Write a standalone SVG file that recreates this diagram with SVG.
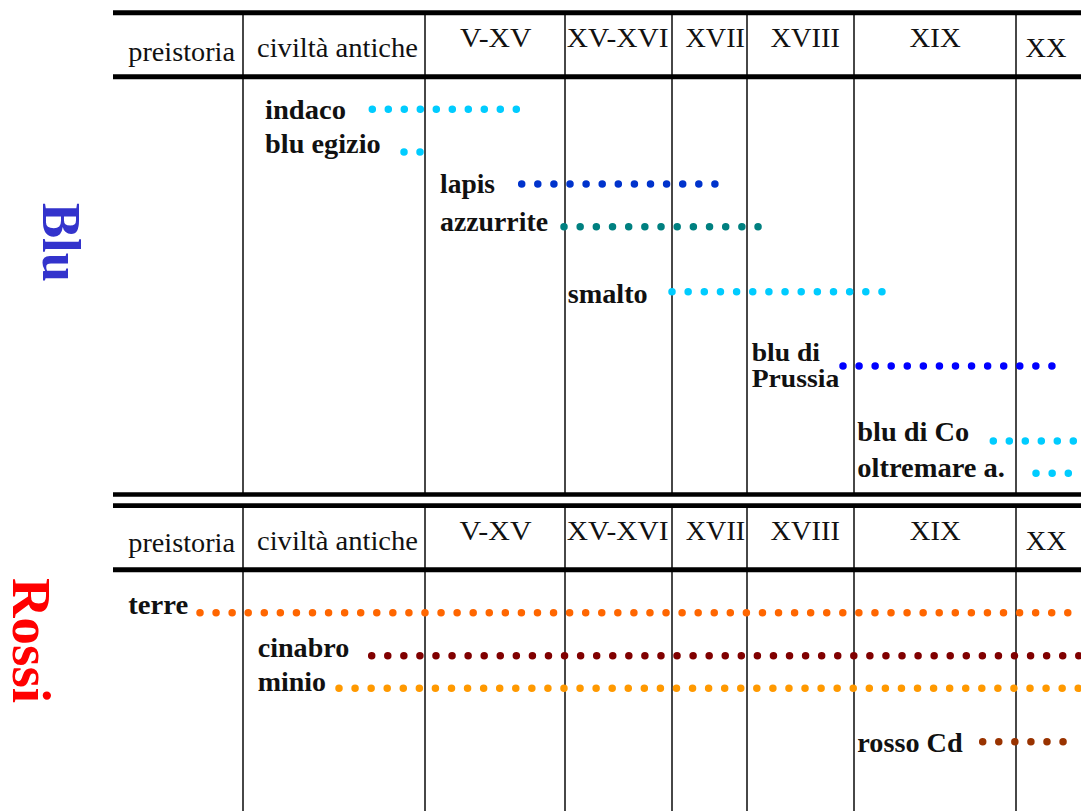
<svg xmlns="http://www.w3.org/2000/svg" width="1081" height="811" viewBox="0 0 1081 811">
<style>
  text { font-family: "Liberation Serif", "Times New Roman", serif; }
  .hdr { font-size: 27px; fill: #111; }
  .lbl { font-size: 27px; font-weight: bold; fill: #111; }
  .lbl2 { font-size: 25px; font-weight: bold; fill: #111; }
  .side { font-size: 54px; font-weight: bold; }
  .thick { stroke: #000; stroke-width: 5; }
  .vline { stroke: #333; stroke-width: 1.8; }
  .dots { fill: none; stroke-width: 7.5; stroke-linecap: round; stroke-dasharray: 0 16.07; }
</style>
<rect width="1081" height="811" fill="#fff"/>

<g id="grid">
  <g id="vertical-lines-top">
    <line class="vline" x1="243" y1="12" x2="243" y2="494"/>
    <line class="vline" x1="425" y1="12" x2="425" y2="494"/>
    <line class="vline" x1="565" y1="12" x2="565" y2="494"/>
    <line class="vline" x1="672" y1="12" x2="672" y2="494"/>
    <line class="vline" x1="747" y1="12" x2="747" y2="494"/>
    <line class="vline" x1="854" y1="12" x2="854" y2="494"/>
    <line class="vline" x1="1016" y1="12" x2="1016" y2="494"/>
  </g>
  <g id="vertical-lines-bottom">
    <line class="vline" x1="243" y1="505" x2="243" y2="811"/>
    <line class="vline" x1="425" y1="505" x2="425" y2="811"/>
    <line class="vline" x1="565" y1="505" x2="565" y2="811"/>
    <line class="vline" x1="672" y1="505" x2="672" y2="811"/>
    <line class="vline" x1="747" y1="505" x2="747" y2="811"/>
    <line class="vline" x1="854" y1="505" x2="854" y2="811"/>
    <line class="vline" x1="1016" y1="505" x2="1016" y2="811"/>
  </g>
  <line class="thick" x1="113" y1="12.8" x2="1081" y2="12.8"/>
  <line class="thick" x1="113" y1="76.7" x2="1081" y2="76.7"/>
  <line class="thick" x1="113" y1="494.6" x2="1081" y2="494.6" style="stroke-width:4.5"/>
  <line class="thick" x1="113" y1="505.7" x2="1081" y2="505.7" style="stroke-width:4.7"/>
  <line class="thick" x1="113" y1="569.7" x2="1081" y2="569.7"/>
</g>

<g id="header-top">
  <text class="hdr" x="128.3" y="60.5" textLength="106.7" lengthAdjust="spacingAndGlyphs">preistoria</text>
  <text class="hdr" x="257" y="57.3" textLength="161" lengthAdjust="spacingAndGlyphs">civiltà antiche</text>
  <text class="hdr" x="460" y="47.3" textLength="71.5" lengthAdjust="spacingAndGlyphs">V-XV</text>
  <text class="hdr" x="566.7" y="47.3" textLength="101.8" lengthAdjust="spacingAndGlyphs">XV-XVI</text>
  <text class="hdr" x="685.5" y="47.3" textLength="59.5" lengthAdjust="spacingAndGlyphs">XVII</text>
  <text class="hdr" x="770.5" y="47.3" textLength="69.5" lengthAdjust="spacingAndGlyphs">XVIII</text>
  <text class="hdr" x="909.5" y="47.3" textLength="51.2" lengthAdjust="spacingAndGlyphs">XIX</text>
  <text class="hdr" x="1025.5" y="57.3" textLength="41" lengthAdjust="spacingAndGlyphs">XX</text>
</g>

<g id="header-bottom">
  <text class="hdr" x="128.3" y="551.7" textLength="106.7" lengthAdjust="spacingAndGlyphs">preistoria</text>
  <text class="hdr" x="257" y="550" textLength="161" lengthAdjust="spacingAndGlyphs">civiltà antiche</text>
  <text class="hdr" x="459.5" y="539.8" textLength="72" lengthAdjust="spacingAndGlyphs">V-XV</text>
  <text class="hdr" x="566.7" y="539.8" textLength="101.8" lengthAdjust="spacingAndGlyphs">XV-XVI</text>
  <text class="hdr" x="685.8" y="539.8" textLength="59.3" lengthAdjust="spacingAndGlyphs">XVII</text>
  <text class="hdr" x="770.6" y="539.8" textLength="69.4" lengthAdjust="spacingAndGlyphs">XVIII</text>
  <text class="hdr" x="909.8" y="539.8" textLength="51" lengthAdjust="spacingAndGlyphs">XIX</text>
  <text class="hdr" x="1025.8" y="549.8" textLength="40.8" lengthAdjust="spacingAndGlyphs">XX</text>
</g>

<g id="side-blu">
  <text class="side" fill="#3333CC" transform="translate(42.5,203) rotate(90)" textLength="79" lengthAdjust="spacingAndGlyphs">Blu</text>
</g>
<g id="side-rossi">
  <text class="side" fill="#FF0000" transform="translate(13,578) rotate(90)" textLength="125" lengthAdjust="spacingAndGlyphs">Rossi</text>
</g>

<g id="node-indaco"><text class="lbl" x="265" y="119" textLength="81" lengthAdjust="spacingAndGlyphs">indaco</text></g>
<g id="node-blu-egizio"><text class="lbl" x="265" y="152.7" textLength="115.7" lengthAdjust="spacingAndGlyphs">blu egizio</text></g>
<g id="node-lapis"><text class="lbl" x="440" y="193" textLength="55" lengthAdjust="spacingAndGlyphs">lapis</text></g>
<g id="node-azzurrite"><text class="lbl" x="440" y="231" textLength="108" lengthAdjust="spacingAndGlyphs">azzurrite</text></g>
<g id="node-smalto"><text class="lbl" x="567.7" y="302.7" textLength="80" lengthAdjust="spacingAndGlyphs">smalto</text></g>
<g id="node-blu-di-prussia">
  <text class="lbl2" x="751.7" y="360.5" textLength="68.3" lengthAdjust="spacingAndGlyphs">blu di</text>
  <text class="lbl2" x="751.7" y="387" textLength="87.6" lengthAdjust="spacingAndGlyphs">Prussia</text>
</g>
<g id="node-blu-di-co"><text class="lbl" x="857.3" y="441" textLength="112" lengthAdjust="spacingAndGlyphs">blu di Co</text></g>
<g id="node-oltremare"><text class="lbl" x="857.3" y="477" textLength="147.7" lengthAdjust="spacingAndGlyphs">oltremare a.</text></g>
<g id="node-terre"><text class="lbl" x="128.3" y="614" textLength="60" lengthAdjust="spacingAndGlyphs">terre</text></g>
<g id="node-cinabro"><text class="lbl" x="257.7" y="656.5" textLength="91.6" lengthAdjust="spacingAndGlyphs">cinabro</text></g>
<g id="node-minio"><text class="lbl" x="257.7" y="691" textLength="68.3" lengthAdjust="spacingAndGlyphs">minio</text></g>
<g id="node-rosso-cd"><text class="lbl" x="857.3" y="751.7" textLength="105.4" lengthAdjust="spacingAndGlyphs">rosso Cd</text></g>

<g id="connectors">
  <line class="dots" stroke="#00CCFF" x1="372.3" y1="109.3" x2="517" y2="109.3" style="stroke-dasharray:0 16"/>
  <line class="dots" stroke="#00CCFF" x1="404" y1="152" x2="421" y2="152" style="stroke-dasharray:0 16"/>
  <line class="dots" stroke="#0033CC" x1="521.7" y1="184" x2="716" y2="184" style="stroke-dasharray:0 16.1"/>
  <line class="dots" stroke="#008080" x1="564" y1="226.7" x2="759" y2="226.7" style="stroke-dasharray:0 16.17"/>
  <line class="dots" stroke="#00CCFF" x1="672" y1="291.7" x2="883" y2="291.7" style="stroke-dasharray:0 16.15"/>
  <line class="dots" stroke="#0000FF" x1="843" y1="366" x2="1053" y2="366" style="stroke-dasharray:0 16.07"/>
  <line class="dots" stroke="#00CCFF" x1="993.3" y1="441" x2="1090" y2="441" style="stroke-dasharray:0 16"/>
  <line class="dots" stroke="#00CCFF" x1="1036" y1="473.3" x2="1069" y2="473.3" style="stroke-dasharray:0 16.15"/>
  <line class="dots" stroke="#FF6600" x1="200" y1="612.7" x2="1069" y2="612.7"/>
  <line class="dots" stroke="#800000" x1="371.7" y1="655.7" x2="1090" y2="655.7"/>
  <line class="dots" stroke="#FF9900" x1="339" y1="688.3" x2="1090" y2="688.3"/>
  <line class="dots" stroke="#993300" x1="982.7" y1="741.7" x2="1064" y2="741.7"/>
</g>
</svg>
